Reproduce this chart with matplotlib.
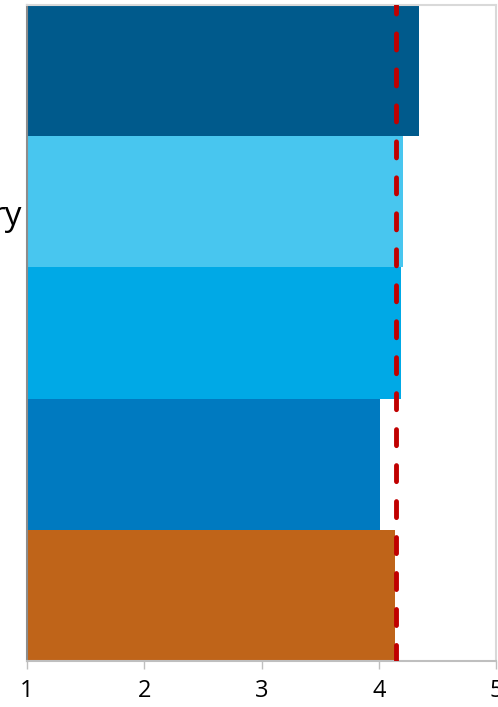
#!/usr/bin/env python3

import matplotlib.pyplot as plt

DPI = 100

# bars listed from top to bottom
values = [4.34, 4.205, 4.19, 4.01, 4.135]
colors = ['#005A8C', '#48C6EF', '#00A9E6', '#007AC0', '#BF6419']
average = 4.15
xticks = [1, 2, 3, 4, 5]


def main():
    plt.rcParams['font.family'] = ['Open Sans', 'DejaVu Sans']
    fig = plt.figure(figsize=(4.98, 7.07), dpi=DPI)
    ax = fig.add_axes([27 / 498, 1 - 661 / 707, 469 / 498, 656 / 707])

    ypos = list(range(len(values)))[::-1]
    ax.barh(ypos, [v - 1 for v in values], left=1, height=1.0, color=colors)
    ax.axvline(average, color='#C00000', lw=3.5, ls=(0, (3.3, 4.1)),
               dash_capstyle='round', zorder=3)

    ax.set_xlim(1, 5)
    ax.set_ylim(-0.5, len(values) - 0.5)
    ax.set_xticks(xticks)
    ax.set_xticklabels([str(t) for t in xticks], fontsize=17)
    ax.set_yticks([])
    ax.tick_params(axis='x', length=6, width=1, color='#bfbfbf', pad=7)

    ax.spines['left'].set_color('#8c8c8c')
    ax.spines['bottom'].set_color('#bfbfbf')
    ax.spines['top'].set_color('#d9d9d9')
    ax.spines['right'].set_color('#d9d9d9')
    for s in ax.spines.values():
        s.set_linewidth(1.5)

    fig.text(22 / 498, 1 - 225 / 707, 'ry', fontsize=24, ha='right', va='baseline')

    fig.savefig('out.png', dpi=DPI)


main()
